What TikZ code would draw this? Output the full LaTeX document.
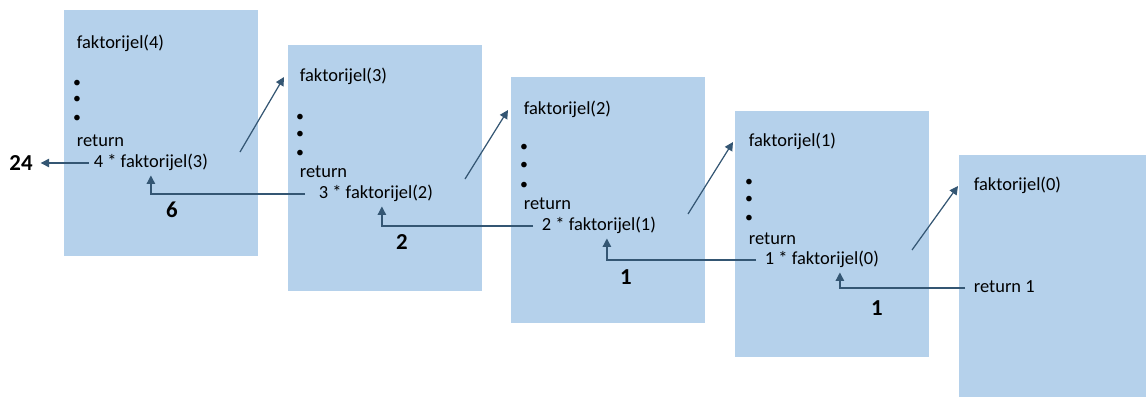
\documentclass[tikz,border=0pt]{standalone}
\usepackage{fontspec}
\setmainfont{Carlito}
\usepackage{xcolor}
\usepackage{tikz}
\usetikzlibrary{arrows.meta, positioning, calc}

\definecolor{framefill}{RGB}{181,209,235}
\definecolor{arrowblue}{RGB}{52,86,115}

\begin{document}
\begin{tikzpicture}[
    x=0.02cm, y=-0.02cm,
    frame/.style={rectangle, fill=framefill, anchor=north west, minimum width=3.88cm, minimum height=4.92cm, inner sep=0pt},
    txt/.style={anchor=west, font=\fontsize{10.5}{12}\selectfont, text height=7.5pt, text depth=2.3pt, inner xsep=2pt, inner ysep=2pt},
    dots/.style={anchor=center, font=\fontsize{9}{9}\selectfont, text height=0.6ex, text depth=0pt, inner sep=0pt},
    num/.style={font=\fontsize{13}{15}\selectfont\bfseries, inner sep=1pt},
    arrow/.style={-{Triangle[length=1.7mm, width=1.7mm]}, draw=arrowblue, line width=0.7pt},
]

\useasboundingbox (0,0) rectangle (1146,396);

% Frames
\node[frame] (f4) at (64,10) {};
\node[frame] (f3) at (288,45) {};
\node[frame] (f2) at (511,77) {};
\node[frame] (f1) at (735,111) {};
\node[frame, minimum width=3.76cm, minimum height=4.84cm] (f0) at (959,155) {};

% faktorijel(4)
\node[txt] (t4) at (73,44) {faktorijel(4)};
\node[dots] (d4a) at (77,85) {•};
\node[dots] (d4b) at (77,101) {•};
\node[dots] (d4c) at (77,120) {•};
\node[txt] (r4) at (73,142) {return};
\node[txt] (c4) at (90,163) {4 * faktorijel(3)};

% faktorijel(3)
\node[txt] (t3) at (296,77) {faktorijel(3)};
\node[dots] (d3a) at (300,119) {•};
\node[dots] (d3b) at (300,136) {•};
\node[dots] (d3c) at (300,155) {•};
\node[txt] (r3) at (296,173) {return};
\node[txt] (c3) at (315,194) {3 * faktorijel(2)};

% faktorijel(2)
\node[txt] (t2) at (520,110) {faktorijel(2)};
\node[dots] (d2a) at (524,149) {•};
\node[dots] (d2b) at (524,167) {•};
\node[dots] (d2c) at (524,187) {•};
\node[txt] (r2) at (520,205) {return};
\node[txt] (c2) at (538,226) {2 * faktorijel(1)};

% faktorijel(1)
\node[txt] (t1) at (745,142) {faktorijel(1)};
\node[dots] (d1a) at (749,184) {•};
\node[dots] (d1b) at (749,201) {•};
\node[dots] (d1c) at (749,220) {•};
\node[txt] (r1) at (745,240) {return};
\node[txt] (c1) at (761,260) {1 * faktorijel(0)};

% faktorijel(0)
\node[txt] (t0) at (970,186) {faktorijel(0)};
\node[txt] (r0) at (970,288) {return 1};

% Calls
\coordinate (s4) at (240,152);
\coordinate (s3) at (465,179);
\coordinate (s2) at (688,214);
\coordinate (s1) at (912,250);
\draw[arrow] (s4) -- ([xshift=-2.4mm]t3.west);
\draw[arrow] (s3) -- ([xshift=-2.4mm]t2.west);
\draw[arrow] (s2) -- ([xshift=-2.4mm]t1.west);
\draw[arrow] (s1) -- ([xshift=-2.4mm]t0.west);

% Returned values
\node[num] (res) at (21,163) {24};
\node[num] (v6) at (172,210) {6};
\node[num] (v2) at (402,242) {2};
\node[num] (v1a) at (626,277) {1};
\node[num] (v1b) at (877,308) {1};

\draw[arrow, shorten <=0.3mm, shorten >=1.2mm] (c4.west) -- (res.east);
\draw[arrow] ([xshift=-2mm]c3.west) -| (c4.south);
\draw[arrow] ([xshift=-1mm]c2.west) -| ([xshift=1.2mm]c3.south);
\draw[arrow] ([xshift=-1mm]c1.west) -| ([xshift=1.6mm]c2.south);
\draw[arrow] ([xshift=-1mm]r0.west) -| ([xshift=3.6mm]c1.south);

\end{tikzpicture}
\end{document}
